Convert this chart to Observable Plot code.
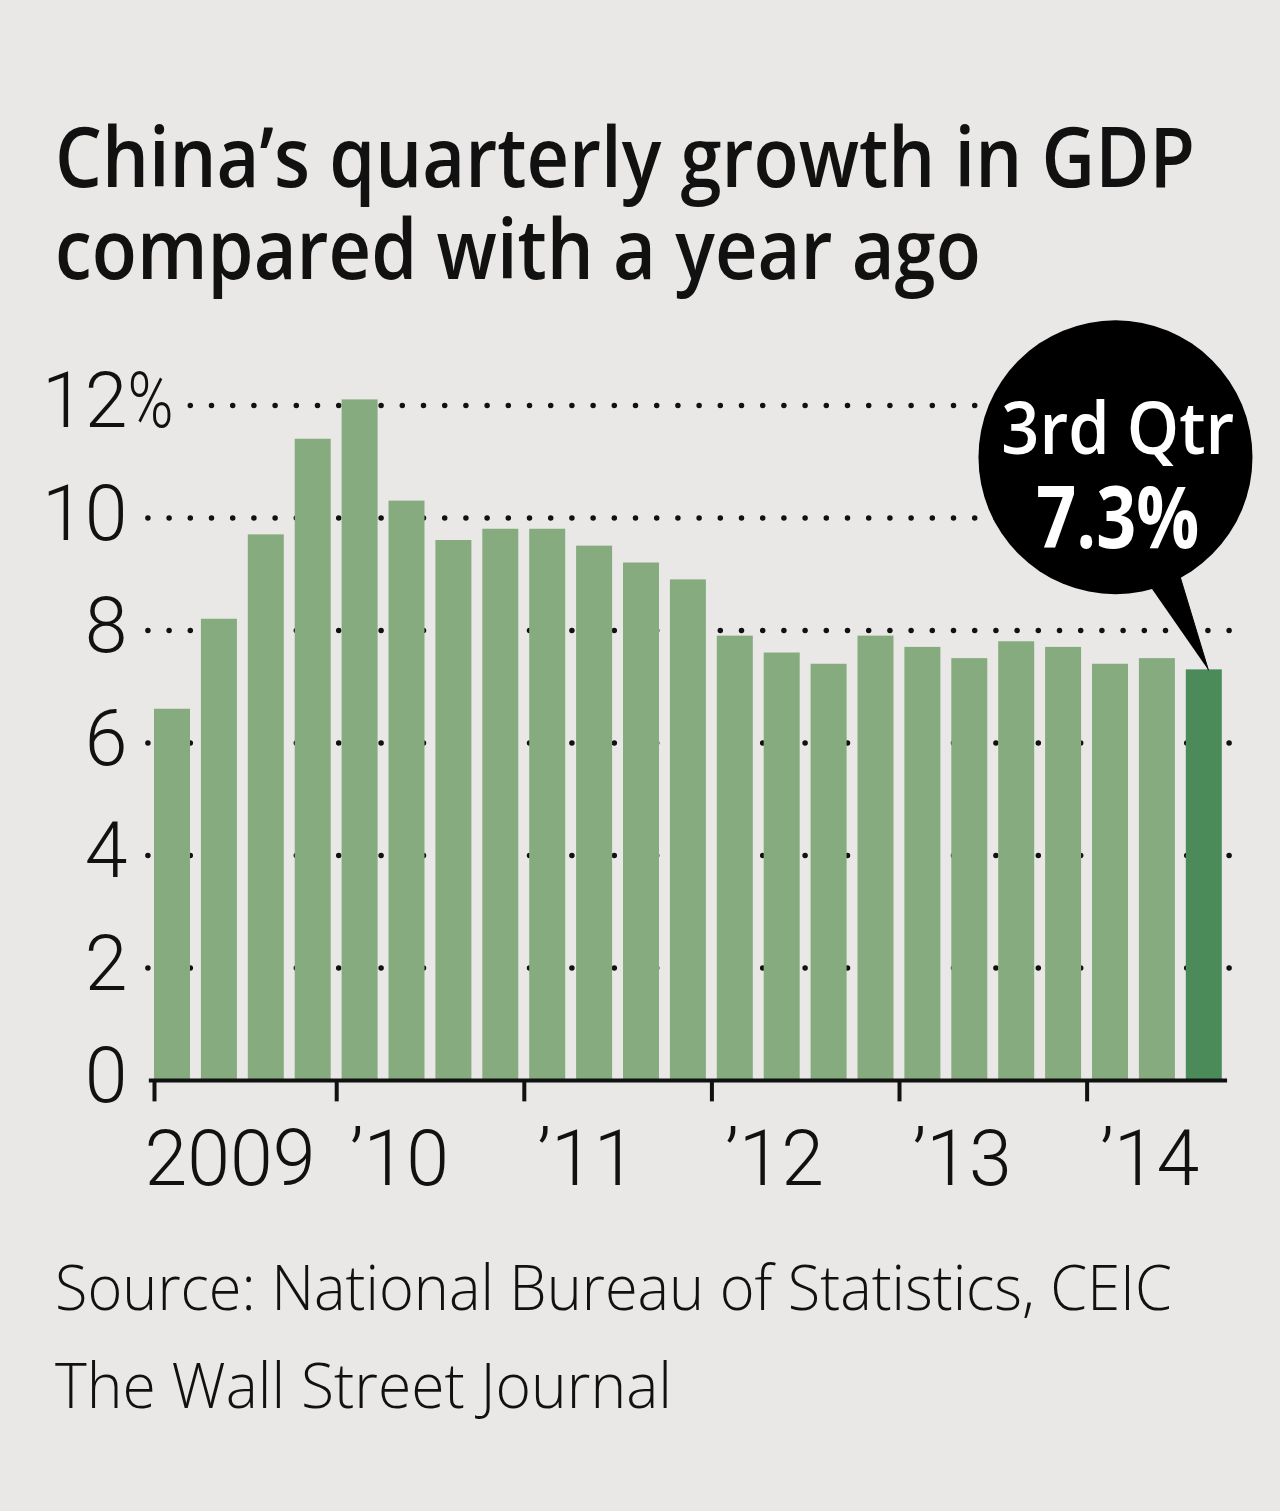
<!DOCTYPE html>
<html><head><meta charset="utf-8">
<script src="https://cdn.jsdelivr.net/npm/d3@7"></script>
<script src="https://cdn.jsdelivr.net/npm/@observablehq/plot@0.6"></script>
<style>
html,body{margin:0;padding:0;background:#e9e8e6;}
#page{position:relative;width:1280px;height:1511px;background:#e9e8e6;overflow:hidden;}
.t{position:absolute;left:55px;white-space:nowrap;transform-origin:0 0;color:#111;}
.title{font-family:"Open Sans",sans-serif;font-weight:600;font-size:84px;line-height:92px;}
.src{font-family:"Open Sans",sans-serif;font-weight:300;font-size:63px;line-height:63px;}
#chart{position:absolute;left:0;top:300px;}
</style></head>
<body><div id="page">
<div class="t title" id="t1" data-w="1140" style="top:109px">China’s quarterly growth in GDP<br>compared with a year ago</div>
<div id="chart"></div>
<div class="t src" id="s1" data-w="1117" style="top:1254px">Source: National Bureau of Statistics, CEIC</div>
<div class="t src" id="s2" data-w="617" style="top:1352px">The Wall Street Journal</div>
</div>
<script>
// ---- data ----
const quarters = ["2009 Q1","2009 Q2","2009 Q3","2009 Q4","2010 Q1","2010 Q2","2010 Q3","2010 Q4",
  "2011 Q1","2011 Q2","2011 Q3","2011 Q4","2012 Q1","2012 Q2","2012 Q3","2012 Q4",
  "2013 Q1","2013 Q2","2013 Q3","2013 Q4","2014 Q1","2014 Q2","2014 Q3"];
const growth = [6.6, 8.2, 9.7, 11.4, 12.1, 10.3, 9.6, 9.8, 9.8, 9.5, 9.2, 8.9,
  7.9, 7.6, 7.4, 7.9, 7.7, 7.5, 7.8, 7.7, 7.4, 7.5, 7.3];
const yearLabels = ["2009", "’10", "’11", "’12", "’13", "’14"];
const yearStarts = [0, 4, 8, 12, 16, 20];
const yTicks = [0, 2, 4, 6, 8, 10, 12];
const gridLevels = [2, 4, 6, 8, 10, 12];
const calloutLabel = "3rd Qtr";
const calloutValue = "7.3%";

// ---- styles ----
const BG = "#e9e8e6", INK = "#111111";
const BAR = "#86ab7f", BAR_HI = "#4b8b5a";
const NUMFONT = "Roboto, 'Open Sans', sans-serif";
const CALLFONT = "'Open Sans', sans-serif";

const bars = growth.map((v, i) => ({i, q: quarters[i], value: v}));
const last = bars.length - 1;
const gapHalf = 0.115;
const ticks = yearStarts.map(s => ({x: s === 0 ? 0 : s - gapHalf}));
const labels = yearLabels.map((t, k) => ({t, x: ticks[k].x}));

// annotation anchored to the last bar
const tip = {x: last + 0.47, y: growth[last]};
const bubble = [{x: tip.x - 1.98, y: 11.08}];
const tail = [{x: tip.x - 1.52, y: 9.12}, {x: tip.x - 0.77, y: 9.42}, tip];
const callText = [{x: bubble[0].x + 0.05, y: 11.13, text: calloutLabel + "\n" + calloutValue}];

const W = 1280, H = 920, ML = 154, STEP = 46.9;
const chart = Plot.plot({
  width: W, height: H,
  marginLeft: ML, marginRight: W - (ML + 23 * STEP), marginTop: 105, marginBottom: 140,
  x: {type: "linear", domain: [0, 23], axis: null},
  y: {domain: [0, 12], axis: null},
  style: {background: "transparent", overflow: "visible"},
  marks: [
    Plot.ruleY(gridLevels, {x1: -0.13, x2: 22.94, stroke: INK, strokeWidth: 5.5,
      strokeDasharray: "0 21.2", strokeLinecap: "round"}),
    Plot.rectY(bars.filter(d => d.i !== last), {x1: "i", x2: d => d.i + 1, y: "value", insetRight: 10.9, fill: BAR}),
    Plot.rectY(bars.filter(d => d.i === last), {x1: "i", x2: d => d.i + 1, y: "value", insetRight: 10.9, fill: BAR_HI}),
    Plot.ruleY([0], {x1: -0.11, x2: 22.88, stroke: INK, strokeWidth: 4}),
    Plot.ruleX(ticks, {x: "x", y1: 0, y2: -0.38, stroke: INK, strokeWidth: 4}),
    Plot.text(yTicks, {x: () => 0, y: d => d, text: d => String(d), textAnchor: "end", dx: -27, dy: -3,
      fontSize: 77, fontWeight: 300, fontFamily: NUMFONT, fill: INK, stroke: BG, strokeWidth: 14}),
    Plot.text([12], {x: () => 0, y: d => d, text: () => "%", textAnchor: "start", dx: -27, dy: -3,
      fontSize: 77, fontWeight: 300, fontFamily: NUMFONT, fill: INK, stroke: BG, strokeWidth: 14}),
    Plot.text(labels.slice(0, 1), {x: "x", y: () => 0, text: "t", textAnchor: "start", dx: -10, dy: 80,
      fontSize: 77, fontWeight: 300, fontFamily: NUMFONT, fill: INK}),
    Plot.text(labels.slice(1), {x: "x", y: () => 0, text: "t", textAnchor: "start", dx: 13, dy: 80,
      fontSize: 77, fontWeight: 300, fontFamily: NUMFONT, fill: INK}),
    Plot.dot(bubble, {x: "x", y: "y", r: 137, fill: "#000"}),
    Plot.line(tail, {x: "x", y: "y", fill: "#000", stroke: "#000", strokeWidth: 1}),
    Plot.text(callText, {x: "x", y: "y", text: "text", lineAnchor: "bottom", fill: "#fff",
      fontSize: 73, fontWeight: 600, fontFamily: CALLFONT})
  ]
});
document.getElementById("chart").appendChild(chart);

// callout line styling: first line label, second line value
const callLines = [
  {size: 73, weight: 600, width: 233, dy: 0},
  {size: 86, weight: 700, width: 163, dy: 94}
];
d3.select(chart).selectAll("text").each(function() {
  const tspans = this.querySelectorAll("tspan");
  if (tspans.length === 2 && tspans[0].textContent === calloutLabel) {
    tspans.forEach((ts, k) => {
      const c = callLines[k];
      ts.removeAttribute("y");
      ts.setAttribute("dy", c.dy);
      ts.setAttribute("font-size", c.size);
      ts.setAttribute("font-weight", c.weight);
      ts.setAttribute("textLength", c.width);
      ts.setAttribute("lengthAdjust", "spacingAndGlyphs");
    });
  } else if (this.textContent === "%") {
    this.setAttribute("textLength", 46);
    this.setAttribute("lengthAdjust", "spacingAndGlyphs");
  }
});
document.querySelectorAll(".t[data-w]").forEach(el => {
  const w = el.getBoundingClientRect().width;
  const s = (+el.dataset.w) / w;
  el.style.transform = `scaleX(${s})`;
});
</script>
</body></html>
